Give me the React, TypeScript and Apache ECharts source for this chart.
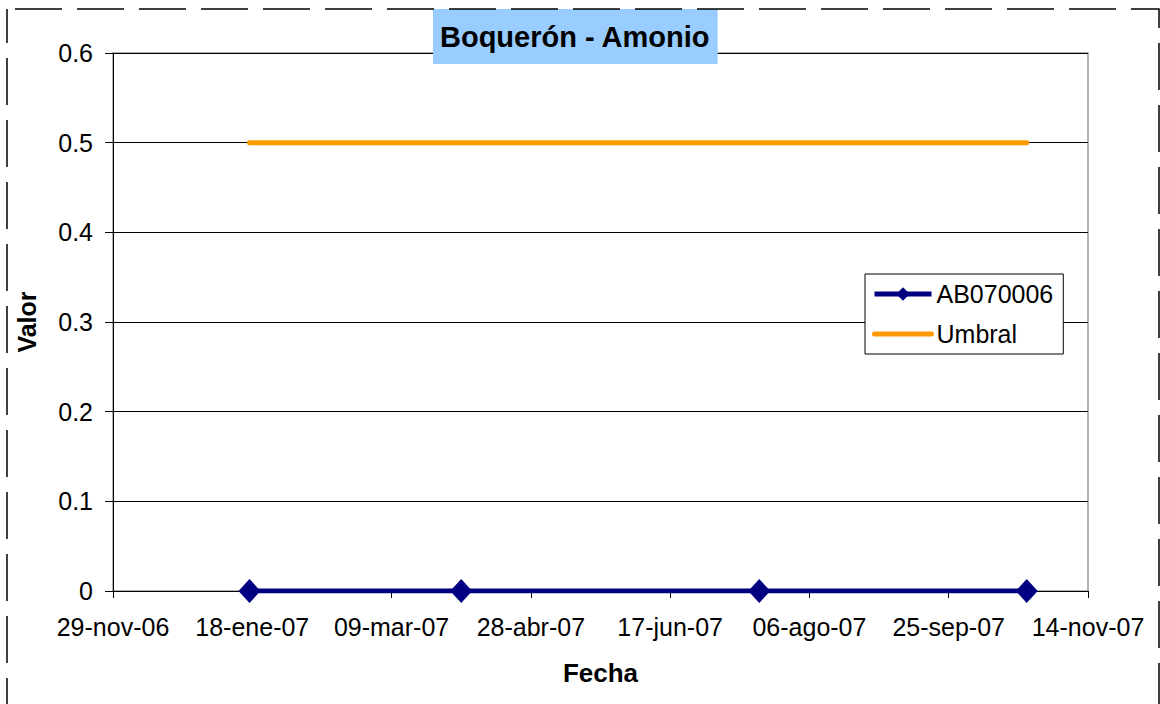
import React, { useEffect, useRef } from "react";
import * as echarts from "echarts";

// ---- data ----
const fechas: string[] = ["2007-01-17", "2007-04-03", "2007-07-19", "2007-10-23"];
const ab070006: number[] = [0, 0, 0, 0];
const umbral: number[] = [0.5, 0.5, 0.5, 0.5];
const xTickLabels: string[] = [
  "29-nov-06", "18-ene-07", "09-mar-07", "28-abr-07",
  "17-jun-07", "06-ago-07", "25-sep-07", "14-nov-07",
];
const xOrigin = "2006-11-29";
const xStepDays = 50;
const seriesNames = ["AB070006", "Umbral"];
const titleText = "Boquerón - Amonio";

function dayOffset(iso: string): number {
  const [y, m, d] = iso.split("-").map(Number);
  const [y0, m0, d0] = xOrigin.split("-").map(Number);
  return Math.round((Date.UTC(y, m - 1, d) - Date.UTC(y0, m0 - 1, d0)) / 86400000);
}

const FONT = "'Liberation Sans', Arial, sans-serif";

export default function App() {
  const ref = useRef<HTMLDivElement>(null);
  useEffect(() => {
    document.body.style.margin = "0";
    if (!ref.current) return;
    const chart = echarts.init(ref.current, undefined, { renderer: "svg" });
    const maxDays = (xTickLabels.length - 1) * xStepDays;
    chart.setOption({
      animation: false,
      backgroundColor: "#ffffff",
      textStyle: { fontFamily: FONT },
      title: {
        text: titleText,
        left: 433,
        top: 9,
        padding: [10, 7, 10, 7],
        backgroundColor: "#99CCFF",
        textStyle: {
          fontFamily: FONT,
          fontSize: 29,
          fontWeight: "bold",
          color: "#000",
          lineHeight: 35,
        },
      },
      legend: {
        orient: "vertical",
        left: 865,
        top: 274,
        padding: [6, 10, 6, 7],
        itemGap: 12,
        itemWidth: 57,
        itemHeight: 17,
        backgroundColor: "#fff",
        borderColor: "#000",
        borderWidth: 1,
        lineStyle: { width: 5 },
        data: [
          { name: seriesNames[0] },
          { name: seriesNames[1], itemStyle: { opacity: 0 } },
        ],
        textStyle: { fontFamily: FONT, fontSize: 25, color: "#000", lineHeight: 28 },
      },
      grid: {
        left: 113,
        right: 72,
        top: 53,
        bottom: 113,
        show: true,
        borderColor: "#999",
        borderWidth: 1.5,
        backgroundColor: "#fff",
      },
      xAxis: {
        type: "value",
        min: 0,
        max: maxDays,
        interval: xStepDays,
        name: "Fecha",
        nameLocation: "middle",
        nameGap: 69,
        nameTextStyle: { fontFamily: FONT, fontSize: 26, fontWeight: "bold", color: "#000" },
        axisLine: { show: true, lineStyle: { color: "#000", width: 1 } },
        axisTick: { show: true, length: 7, lineStyle: { color: "#000" } },
        axisLabel: {
          margin: 23,
          fontFamily: FONT,
          fontSize: 25,
          color: "#000",
          formatter: (v: number) => xTickLabels[Math.round(v / xStepDays)] ?? "",
        },
        splitLine: { show: false },
      },
      yAxis: {
        type: "value",
        min: 0,
        max: 0.6,
        interval: 0.1,
        name: "Valor",
        nameLocation: "middle",
        nameGap: 74,
        nameRotate: 90,
        nameTextStyle: { fontFamily: FONT, fontSize: 25, fontWeight: "bold", color: "#000" },
        axisLine: { show: true, lineStyle: { color: "#000", width: 1 } },
        axisTick: { show: true, length: 8, lineStyle: { color: "#000" } },
        axisLabel: {
          margin: 20,
          fontFamily: FONT,
          fontSize: 25,
          color: "#000",
          formatter: (v: number) => String(Math.round(v * 10) / 10),
        },
        splitLine: { show: true, lineStyle: { color: "#000", width: 1 } },
      },
      series: [
        {
          name: seriesNames[0],
          type: "line",
          data: fechas.map((f, i) => [dayOffset(f), ab070006[i]]),
          symbol: "diamond",
          symbolSize: [22, 24],
          itemStyle: { color: "#000080" },
          lineStyle: { color: "#000080", width: 5 },
          z: 3,
        },
        {
          name: seriesNames[1],
          type: "line",
          data: fechas.map((f, i) => [dayOffset(f), umbral[i]]),
          symbol: "none",
          itemStyle: { color: "#FF9900" },
          lineStyle: { color: "#FF9900", width: 5, cap: "round" },
          z: 2,
        },
      ],
      graphic: [
        {
          type: "rect",
          z: 100,
          silent: true,
          shape: { x: 7, y: 9, width: 1152, height: 760 },
          style: { fill: "none", stroke: "#000", lineWidth: 1.5, lineDash: [47, 15], lineDashOffset: 54 },
        },
      ],
    });
    return () => chart.dispose();
  }, []);
  return <div ref={ref} style={{ width: 1160, height: 704 }} />;
}
